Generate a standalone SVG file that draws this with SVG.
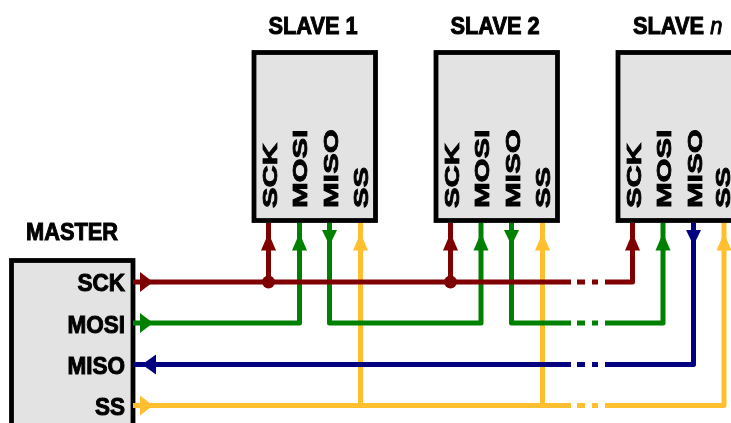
<svg xmlns="http://www.w3.org/2000/svg" width="731" height="423" viewBox="0 0 731 423">
<defs>
<filter id="soft" x="-5%" y="-5%" width="110%" height="110%"><feGaussianBlur stdDeviation="0.6"/></filter>
</defs>
<style>
.box{fill:#e3e3e3;stroke:#000;stroke-width:4.8}
text{font-family:"Liberation Sans",Arial,sans-serif;font-weight:bold;font-size:24.500px;fill:#000;stroke:#000;stroke-width:1}
.v{font-size:20.500px;stroke-width:.8}
.w{fill:none;stroke-width:5;stroke-linejoin:round}
.red{stroke:#7f0000}.grn{stroke:#008000}.blu{stroke:#000080}.yel{stroke:#ffbf2f}
.fred{fill:#7f0000}.fgrn{fill:#008000}.fblu{fill:#000080}.fyel{fill:#ffbf2f}
</style>
<rect width="731" height="423" fill="#fff"/>
<g filter="url(#soft)">
<g id="master">
<rect class="box" x="11.500" y="260.500" width="121.500" height="175"/>
<text transform="translate(26,240) scale(.89,1)">MASTER</text>
<text text-anchor="end" transform="translate(125,291) scale(.92,1)">SCK</text>
<text text-anchor="end" transform="translate(125,332.500) scale(.92,1)">MOSI</text>
<text text-anchor="end" transform="translate(125,374) scale(.92,1)">MISO</text>
<text text-anchor="end" transform="translate(125,415) scale(.92,1)">SS</text>
</g>
<g id="slave1">
<rect class="box" x="254" y="52.500" width="121.500" height="168"/>
<text transform="translate(268.500,33.500) scale(.89,1)">SLAVE 1</text>
<text class="v" transform="translate(276.500,208) rotate(-90) scale(1.5,1)">SCK</text>
<text class="v" transform="translate(307,208) rotate(-90) scale(1.5,1)">MOSI</text>
<text class="v" transform="translate(337.500,208) rotate(-90) scale(1.5,1)">MISO</text>
<text class="v" transform="translate(368,208) rotate(-90) scale(1.5,1)">SS</text>
</g>
<g id="slave2">
<rect class="box" x="436" y="52.500" width="121.500" height="168"/>
<text transform="translate(450.500,33.500) scale(.89,1)">SLAVE 2</text>
<text class="v" transform="translate(458.500,208) rotate(-90) scale(1.5,1)">SCK</text>
<text class="v" transform="translate(489,208) rotate(-90) scale(1.5,1)">MOSI</text>
<text class="v" transform="translate(519.500,208) rotate(-90) scale(1.5,1)">MISO</text>
<text class="v" transform="translate(550,208) rotate(-90) scale(1.5,1)">SS</text>
</g>
<g id="slaven">
<rect class="box" x="618" y="52.500" width="121.500" height="168"/>
<text transform="translate(633,33.500) scale(.89,1)">SLAVE <tspan font-style="italic" font-weight="normal">n</tspan></text>
<text class="v" transform="translate(640.500,208) rotate(-90) scale(1.5,1)">SCK</text>
<text class="v" transform="translate(671,208) rotate(-90) scale(1.5,1)">MOSI</text>
<text class="v" transform="translate(701.500,208) rotate(-90) scale(1.5,1)">MISO</text>
<text class="v" transform="translate(729.500,208) rotate(-90) scale(1.5,1)">SS</text>
</g>
<g id="connectors">
<g class="w yel">
<path d="M133 405.500H571M577 405.500H585M592 405.500H598M605 405.500H724V223"/>
<path d="M360.500 405.500V223M542.500 405.500V223"/>
</g>
<g class="w grn">
<path d="M133 323H299.500V223"/>
<path d="M329.500 223V323H481V223"/>
<path d="M511.500 223V323H571M577 323H585M592 323H598M605 323H663V223"/>
</g>
<g class="w blu">
<path d="M133 364.500H571M577 364.500H585M592 364.500H598M605 364.500H693.500V223"/>
</g>
<g class="w red">
<path d="M133 282H571M577 282H585M592 282H598M605 282H632.500V223"/>
<path d="M268.500 282V223M450.500 282V223"/>
</g>
<circle class="fred" cx="268.500" cy="282" r="6.500"/>
<circle class="fred" cx="450.500" cy="282" r="6.500"/>
<path class="fred" d="M140 272L153 282L140 292Z"/>
<path class="fgrn" d="M140 313L153 323L140 333Z"/>
<path class="fblu" d="M156 354.500L142 364.500L156 374.500Z"/>
<path class="fyel" d="M140 395.500L153 405.500L140 415.500Z"/>
<path class="fred" d="M261 250.500L268.500 233L276 250.500Z"/>
<path class="fgrn" d="M292 250.500L299.500 233L307 250.500Z"/>
<path class="fgrn" d="M322 230L329.500 245.500L337 230Z"/>
<path class="fyel" d="M353 250.500L360.500 233L368 250.500Z"/>
<path class="fred" d="M443 250.500L450.500 233L458 250.500Z"/>
<path class="fgrn" d="M473.500 250.500L481 233L488.500 250.500Z"/>
<path class="fgrn" d="M504 230L511.500 245.500L519 230Z"/>
<path class="fyel" d="M535 250.500L542.500 233L550 250.500Z"/>
<path class="fred" d="M625 250.500L632.500 233L640 250.500Z"/>
<path class="fgrn" d="M655.500 250.500L663 233L670.500 250.500Z"/>
<path class="fblu" d="M686 230L693.500 245.500L701 230Z"/>
<path class="fyel" d="M716.500 250.500L724 233L731.500 250.500Z"/>
</g>
</g>
</svg>
